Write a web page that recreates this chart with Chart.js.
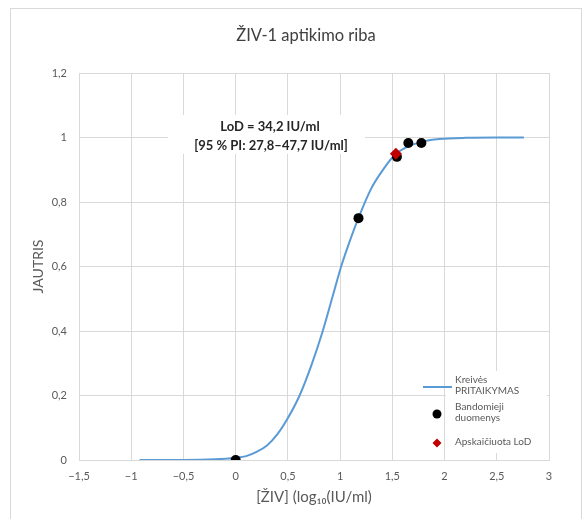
<!DOCTYPE html>
<html>
<head>
<meta charset="utf-8">
<script src="https://cdn.jsdelivr.net/npm/chart.js@4.4.1/dist/chart.umd.min.js"></script>
<style>
  html, body { margin: 0; padding: 0; background: #ffffff; }
  #wrap { position: relative; width: 585px; height: 519px; overflow: hidden; }
  #frame { position: absolute; left: 10px; top: 8px; width: 572px; height: 530px; border: 1px solid #d9d9d9; box-sizing: border-box; }
  canvas { position: absolute; left: 0; top: 0; }
</style>
</head>
<body>
<div id="wrap">
  <div id="frame"></div>
  <canvas id="chart" width="585" height="519"></canvas>
</div>
<script>
// Duomenys
const chartTitle = 'ŽIV-1 aptikimo riba';
const xTitle = '[ŽIV] (log₁₀(IU/ml)';
const yTitle = 'JAUTRIS';

// pritaikyta kreivė (nuskaityta nuo paveikslo)
const curveX = [-0.92, -0.5, -0.2, 0, 0.1, 0.2, 0.3, 0.4, 0.5, 0.612, 0.723, 0.834, 0.93, 1.01, 1.105, 1.175, 1.295, 1.4, 1.52, 1.65, 1.8, 1.95, 2.2, 2.5, 2.76];
const curveY = [0, 0, 0.002, 0.007, 0.012, 0.025, 0.045, 0.08, 0.13, 0.2, 0.292, 0.40, 0.509, 0.60, 0.69, 0.75, 0.84, 0.895, 0.945, 0.972, 0.988, 0.995, 0.999, 1.0, 1.0];

// bandomieji duomenys
const obsX = [0, 1.176, 1.544, 1.653, 1.778];
const obsY = [0, 0.75, 0.94, 0.983, 0.983];

// apskaičiuota LoD
const lodX = [1.534];
const lodY = [0.95];

const legendLabels = [['Kreivės', 'PRITAIKYMAS'], ['Bandomieji', 'duomenys'], ['Apskaičiuota LoD']];
const noteLines = ['LoD = 34,2 IU/ml', '[95 % PI: 27,8–47,7 IU/ml]'];

const FONT = "Lato, 'Open Sans', sans-serif";
const TEXT = '#595959';

function fmt(v) {
    const r = Math.round(v * 10) / 10;
    return (r < 0 ? '−' : '') + String(Math.abs(r)).replace('.', ',');
}

const toPts = (xs, ys) => xs.map((x, i) => ({ x: x, y: ys[i] }));

// Pavadinimas, anotacija ir legenda
const extras = {
    id: 'extras',
    afterDraw(chart) {
        const ctx = chart.ctx;
        const a = chart.chartArea;
        ctx.save();

        // pavadinimas
        ctx.fillStyle = '#404040';
        ctx.font = '16.5px ' + FONT;
        ctx.textAlign = 'center';
        ctx.textBaseline = 'middle';
        ctx.fillText(chartTitle, 306, 36);

        // LoD anotacija
        ctx.fillStyle = '#ffffff';
        ctx.fillRect(168, 115, 197, 39);
        ctx.fillStyle = '#262626';
        ctx.font = 'bold 13px ' + FONT;
        ctx.fillText(noteLines[0], 270, 127);
        ctx.fillText(noteLines[1], 271, 146);

        // legenda
        const r = a.right, b = a.bottom;
        ctx.fillStyle = '#ffffff';
        ctx.fillRect(r - 103, b - 89, 101, 82);

        ctx.strokeStyle = '#5b9bd5';
        ctx.lineWidth = 2;
        ctx.beginPath();
        ctx.moveTo(r - 126, b - 73);
        ctx.lineTo(r - 97, b - 73);
        ctx.stroke();

        ctx.fillStyle = '#000000';
        ctx.strokeStyle = '#000000';
        Chart.helpers.drawPoint(ctx, { pointStyle: 'circle', radius: 4.5, borderWidth: 0 }, r - 112, b - 46);
        ctx.fillStyle = '#c00000';
        ctx.strokeStyle = '#c00000';
        Chart.helpers.drawPoint(ctx, { pointStyle: 'rectRot', radius: 4.5, borderWidth: 0 }, r - 112, b - 17);

        ctx.fillStyle = TEXT;
        ctx.font = '10px ' + FONT;
        ctx.textAlign = 'left';
        ctx.fillText(legendLabels[0][0], r - 94, b - 80);
        ctx.fillText(legendLabels[0][1], r - 94, b - 69);
        ctx.fillText(legendLabels[1][0], r - 94, b - 53);
        ctx.fillText(legendLabels[1][1], r - 94, b - 42);
        ctx.fillText(legendLabels[2][0], r - 94, b - 18);

        ctx.restore();
    }
};

new Chart(document.getElementById('chart'), {
    type: 'scatter',
    data: {
        datasets: [
            {
                label: 'Kreivės PRITAIKYMAS',
                data: toPts(curveX, curveY),
                showLine: true,
                borderColor: '#5b9bd5',
                borderWidth: 2,
                pointRadius: 0,
                cubicInterpolationMode: 'monotone',
                order: 3
            },
            {
                label: 'Bandomieji duomenys',
                data: toPts(obsX, obsY),
                backgroundColor: '#000000',
                borderColor: '#000000',
                pointRadius: 5,
                borderWidth: 0,
                order: 2
            },
            {
                label: 'Apskaičiuota LoD',
                data: toPts(lodX, lodY),
                backgroundColor: '#c00000',
                borderColor: '#c00000',
                pointStyle: 'rectRot',
                pointRadius: 6,
                borderWidth: 0,
                order: 1
            }
        ]
    },
    options: {
        responsive: false,
        animation: false,
        layout: { padding: { left: 10, right: 36, top: 73, bottom: 0 } },
        plugins: {
            legend: { display: false },
            tooltip: { enabled: false },
            title: { display: false }
        },
        scales: {
            x: {
                type: 'linear',
                min: -1.5,
                max: 3,
                ticks: { stepSize: 0.5, color: TEXT, font: { family: FONT, size: 11 }, padding: 10, callback: fmt },
                grid: { color: '#d9d9d9', drawTicks: false },
                border: { color: '#d9d9d9' },
                title: { display: true, text: xTitle, color: TEXT, font: { family: FONT, size: 15 }, padding: { top: 0, bottom: 13 } },
                afterFit(scale) { scale.height = 59; }
            },
            y: {
                min: 0,
                max: 1.2,
                ticks: { stepSize: 0.2, color: TEXT, font: { family: FONT, size: 11 }, padding: 12, callback: fmt },
                grid: { color: '#d9d9d9', drawTicks: false },
                border: { color: '#d9d9d9' },
                title: { display: true, text: yTitle, color: TEXT, font: { family: FONT, size: 14 }, padding: { top: 20, bottom: 0 } },
                afterFit(scale) { scale.width = 69; }
            }
        }
    },
    plugins: [extras]
});
</script>
</body>
</html>
